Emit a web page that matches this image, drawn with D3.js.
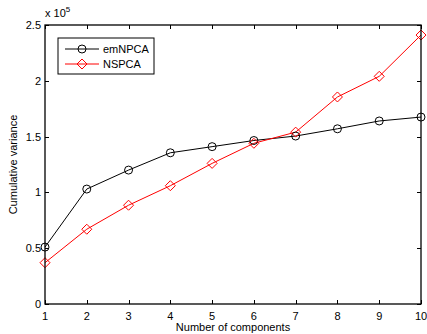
<!DOCTYPE html>
<html>
<head>
<meta charset="utf-8">
<script src="https://cdn.jsdelivr.net/npm/d3@7"></script>
<style>
  html, body { margin: 0; padding: 0; background: #fff; }
  svg { display: block; font-family: "Liberation Sans", Arial, Helvetica, sans-serif; }
</style>
</head>
<body>
<svg id="chart" width="427" height="334"></svg>
<script>
// Number of components on the x axis
const components = [1, 2, 3, 4, 5, 6, 7, 8, 9, 10];
// Cumulative variance, in units of 10^5
const emNPCA = [0.51, 1.03, 1.20, 1.355, 1.41, 1.465, 1.505, 1.57, 1.64, 1.675];
const NSPCA  = [0.37, 0.67, 0.885, 1.06, 1.26, 1.44, 1.54, 1.855, 2.04, 2.41];
const xTicks = [1, 2, 3, 4, 5, 6, 7, 8, 9, 10];
const yTicks = [0, 0.5, 1, 1.5, 2, 2.5];
const yTickLabels = ["0", "0.5", "1", "1.5", "2", "2.5"];

const svg = d3.select("#chart");
const plotLeft = 45, plotRight = 421, plotTop = 25, plotBottom = 304;

const x = d3.scaleLinear().domain([1, 10]).range([plotLeft, plotRight]);
const y = d3.scaleLinear().domain([0, 2.5]).range([plotBottom, plotTop]);

const tickLen = 4;
const fontSize = 11;

// Ticks pointing inward on all four sides
const axisG = svg.append("g").attr("stroke", "#000").attr("stroke-width", 1);
xTicks.forEach(t => {
  const px = Math.round(x(t)) + 0.5;
  axisG.append("line").attr("x1", px).attr("x2", px).attr("y1", plotBottom).attr("y2", plotBottom - tickLen);
  axisG.append("line").attr("x1", px).attr("x2", px).attr("y1", plotTop).attr("y2", plotTop + tickLen);
});
yTicks.forEach(t => {
  const py = Math.round(y(t)) + 0.5;
  axisG.append("line").attr("x1", plotLeft).attr("x2", plotLeft + tickLen).attr("y1", py).attr("y2", py);
  axisG.append("line").attr("x1", plotRight).attr("x2", plotRight - tickLen).attr("y1", py).attr("y2", py);
});

// Tick labels
svg.append("g").selectAll("text").data(xTicks).join("text")
  .attr("x", d => x(d)).attr("y", plotBottom + 16)
  .attr("text-anchor", "middle").attr("font-size", fontSize).attr("fill", "#000")
  .text(d => d);
svg.append("g").selectAll("text").data(yTicks).join("text")
  .attr("x", plotLeft - 4).attr("y", d => y(d) + 4)
  .attr("text-anchor", "end").attr("font-size", fontSize).attr("fill", "#000")
  .text((d, i) => yTickLabels[i]);

// Exponent label
const expo = svg.append("text").attr("x", plotLeft).attr("y", 17).attr("font-size", fontSize).attr("fill", "#000");
expo.append("tspan").text("x 10");
expo.append("tspan").attr("dy", -5).attr("font-size", 8).text("5");

// Axis titles
svg.append("text").attr("x", (plotLeft + plotRight) / 2).attr("y", 331)
  .attr("text-anchor", "middle").attr("font-size", fontSize).attr("fill", "#000")
  .text("Number of components");
svg.append("text").attr("transform", `translate(17,${(plotTop + plotBottom) / 2}) rotate(-90)`)
  .attr("text-anchor", "middle").attr("font-size", fontSize).attr("fill", "#000")
  .text("Cumulative variance");

// Series
const line = d3.line().x((d, i) => x(components[i])).y(d => y(d));

svg.append("path").datum(emNPCA).attr("d", line)
  .attr("fill", "none").attr("stroke", "#000").attr("stroke-width", 1);
svg.append("path").datum(NSPCA).attr("d", line)
  .attr("fill", "none").attr("stroke", "#ff0000").attr("stroke-width", 1);

const circleR = 4;
svg.append("g").selectAll("circle").data(emNPCA).join("circle")
  .attr("cx", (d, i) => x(components[i])).attr("cy", d => y(d)).attr("r", circleR)
  .attr("fill", "none").attr("stroke", "#000").attr("stroke-width", 1);

const diamond = (cx, cy, s) => `M${cx},${cy - s}L${cx + s},${cy}L${cx},${cy + s}L${cx - s},${cy}Z`;
svg.append("g").selectAll("path").data(NSPCA).join("path")
  .attr("d", (d, i) => diamond(x(components[i]), y(d), 5))
  .attr("fill", "none").attr("stroke", "#ff0000").attr("stroke-width", 1);

// Axes frame
svg.append("rect").attr("x", plotLeft).attr("y", plotTop).attr("width", plotRight - plotLeft).attr("height", plotBottom - plotTop)
  .attr("fill", "none").attr("stroke", "#000").attr("stroke-width", 1.3);

// Legend
const lg = svg.append("g");
lg.append("rect").attr("x", 58).attr("y", 38).attr("width", 96).attr("height", 36)
  .attr("fill", "#fff").attr("stroke", "#000").attr("stroke-width", 1);
const legendItems = [
  { name: "emNPCA", color: "#000", marker: "circle", yy: 49 },
  { name: "NSPCA", color: "#ff0000", marker: "diamond", yy: 64 }
];
legendItems.forEach(it => {
  lg.append("line").attr("x1", 65).attr("x2", 99).attr("y1", it.yy).attr("y2", it.yy)
    .attr("stroke", it.color).attr("stroke-width", 1);
  if (it.marker === "circle") {
    lg.append("circle").attr("cx", 82).attr("cy", it.yy).attr("r", circleR)
      .attr("fill", "none").attr("stroke", it.color);
  } else {
    lg.append("path").attr("d", diamond(82, it.yy, 5)).attr("fill", "none").attr("stroke", it.color);
  }
  lg.append("text").attr("x", 103).attr("y", it.yy + 4).attr("font-size", fontSize).attr("fill", "#000")
    .text(it.name);
});
</script>
</body>
</html>
